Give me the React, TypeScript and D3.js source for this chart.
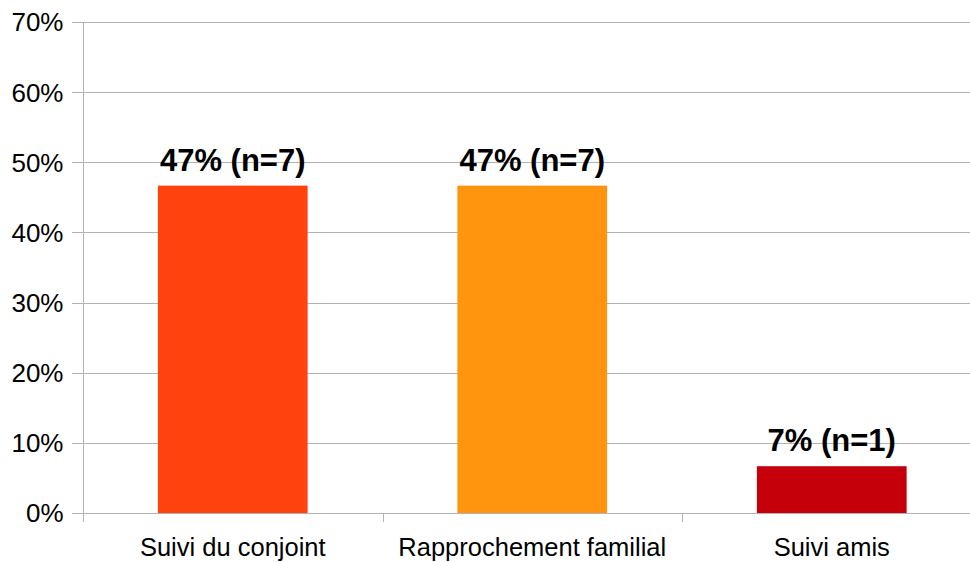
import React from "react";
import * as d3 from "d3";

const categories = ["Suivi du conjoint", "Rapprochement familial", "Suivi amis"];
const values = [0.4667, 0.4667, 0.0667];
const counts = [7, 7, 1];
const colors = ["#ff420e", "#ff950e", "#c5000b"];
const yTicks = [0, 0.1, 0.2, 0.3, 0.4, 0.5, 0.6, 0.7];

const W = 970;
const H = 562;
const FONT = "'Liberation Sans', Arial, sans-serif";

export default function App() {
  const x = d3.scaleBand<string>().domain(categories).range([83, 981.5]).paddingInner(0).paddingOuter(0);
  const y = d3.scaleLinear().domain([0, 0.7]).range([513, 22]);
  const bw = x.bandwidth();
  const barW = bw * 0.5;
  const fmt = d3.format(".0%");
  const boundaries = [...categories.map((c) => x(c) as number), 981.5];

  return (
    <svg
      width={W}
      height={H}
      style={{ position: "absolute", left: 0, top: 0, background: "#fff" }}
    >
      {yTicks.map((t) => (
        <g key={t}>
          <line x1={72} x2={W} y1={Math.round(y(t)) + 0.5} y2={Math.round(y(t)) + 0.5} stroke="#b3b3b3" strokeWidth={1} />
          <text
            x={63.5}
            y={y(t)}
            dy="0.36em"
            textAnchor="end"
            fontFamily={FONT}
            fontSize={26}
            fill="#000"
          >
            {fmt(t)}
          </text>
        </g>
      ))}
      <line x1={83.5} x2={83.5} y1={y(0.7)} y2={522} stroke="#b3b3b3" strokeWidth={1} />
      {boundaries.map((b, i) => (
        <line key={i} x1={Math.round(b) + 0.5} x2={Math.round(b) + 0.5} y1={513} y2={522} stroke="#b3b3b3" strokeWidth={1} />
      ))}
      {categories.map((c, i) => {
        const cx = (x(c) as number) + bw / 2;
        return (
          <g key={c}>
            <rect x={cx - barW / 2} y={y(values[i])} width={barW} height={y(0) - y(values[i])} fill={colors[i]} />
            <text
              x={cx}
              y={y(values[i]) - 15}
              textAnchor="middle"
              fontFamily={FONT}
              fontWeight="bold"
              fontSize={31}
              fill="#000"
            >
              {`${fmt(values[i])} (n=${counts[i]})`}
            </text>
            <text x={cx} y={556} textAnchor="middle" fontFamily={FONT} fontSize={25.5} fill="#000">
              {c}
            </text>
          </g>
        );
      })}
      <line x1={83} x2={W} y1={513.5} y2={513.5} stroke="#b3b3b3" strokeWidth={1} />
    </svg>
  );
}
